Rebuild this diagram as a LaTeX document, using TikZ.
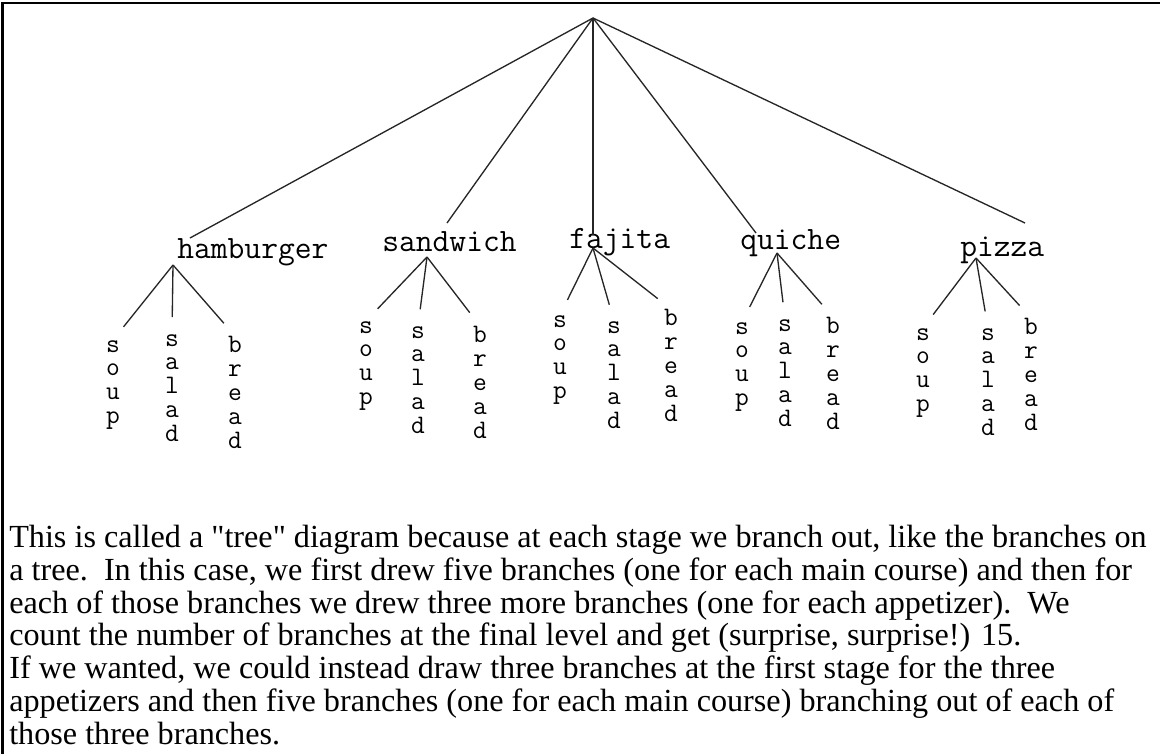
\documentclass[tikz,border=0pt]{standalone}
\usepackage{fontspec}
\setmainfont{Liberation Serif}
\tikzset{frame/.style={line width=1.8pt,black},
  branch/.style={line width=.95pt,black!85},
  twig/.style={branch,shorten >=12pt},
  dish/.style={inner sep=0pt,anchor=base west,font=\fontsize{23.2}{24}\ttfamily},
  leaf/.style={inner sep=0pt,anchor=north,align=center,font=\fontsize{19}{17}\ttfamily},
  caption/.style={inner sep=0pt,anchor=north west,align=left,font=\fontsize{22.9}{23.3}\selectfont}}
\begin{document}
\begin{tikzpicture}[x=.25mm,y=-.25mm]
\useasboundingbox (0,0) rectangle (1160,754);
\draw[frame] (1160,3) -- (2.5,3) -- (2.5,754);
% main courses
\coordinate (root) at (593,18);
\node[dish] (hamburger) at (177,258) {hamburger};
\node[dish] (sandwich) at (382,251) {sandwich};
\node[dish] (fajita) at (569,248) {fajita};
\node[dish] (quiche) at (740,249) {quiche};
\node[dish] (pizza) at (960,256) {pizza};
\coordinate (hamburgertop) at (190,238);
\coordinate (sandwichtop) at (447,223);
\coordinate (fajitatop) at (593,235);
\coordinate (quichetop) at (756,233);
\coordinate (pizzatop) at (1025,223);
\draw[branch] (root) -- (hamburgertop);
\draw[branch] (root) -- (sandwichtop);
\draw[branch] (root) -- (fajitatop);
\draw[branch] (root) -- (quichetop);
\draw[branch] (root) -- (pizzatop);
% appetizers under each main course
\coordinate (hamburgerfork) at (173,265);
\node[leaf] (hsoup) at (113,340) {s\\o\\u\\p};
\node[leaf] (hsalad) at (172,334) {s\\a\\l\\a\\d};
\node[leaf] (hbread) at (235,336) {b\\r\\e\\a\\d};
\draw[twig] (hamburgerfork) -- (hsoup.north);
\draw[twig] (hamburgerfork) -- (hsalad.north);
\draw[twig] (hamburgerfork) -- (hbread.north);
\coordinate (sandwichfork) at (427,257);
\node[leaf] (ssoup) at (366,321) {s\\o\\u\\p};
\node[leaf] (ssalad) at (418,326) {s\\a\\l\\a\\d};
\node[leaf] (sbread) at (480,326) {b\\r\\e\\a\\d};
\draw[twig] (sandwichfork) -- (ssoup.north);
\draw[twig] (sandwichfork) -- (ssalad.north);
\draw[twig] (sandwichfork) -- (sbread.north);
\coordinate (fajitafork) at (593,248);
\node[leaf] (fsoup) at (560,315) {s\\o\\u\\p};
\node[leaf] (fsalad) at (614,321) {s\\a\\l\\a\\d};
\node[leaf] (fbread) at (671,309) {b\\r\\e\\a\\d};
\draw[twig] (fajitafork) -- (fsoup.north);
\draw[twig] (fajitafork) -- (fsalad.north);
\draw[twig] (fajitafork) -- (fbread.north);
\coordinate (quichefork) at (777,253);
\node[leaf] (qsoup) at (742,322) {s\\o\\u\\p};
\node[leaf] (qsalad) at (785,319) {s\\a\\l\\a\\d};
\node[leaf] (qbread) at (833,317) {b\\r\\e\\a\\d};
\draw[twig] (quichefork) -- (qsoup.north);
\draw[twig] (quichefork) -- (qsalad.north);
\draw[twig] (quichefork) -- (qbread.north);
\coordinate (pizzafork) at (976,258);
\node[leaf] (psoup) at (923,328) {s\\o\\u\\p};
\node[leaf] (psalad) at (988,328) {s\\a\\l\\a\\d};
\node[leaf] (pbread) at (1031,318) {b\\r\\e\\a\\d};
\draw[twig] (pizzafork) -- (psoup.north);
\draw[twig] (pizzafork) -- (psalad.north);
\draw[twig] (pizzafork) -- (pbread.north);
% explanation
\node[caption] (caption) at (9,525) {This is called a \textquotedbl tree\textquotedbl{} diagram because at each stage we branch out, like the branches on\\
a tree.\ \ In this case, we first drew five branches (one for each main course) and then for\\
each of those branches we drew three more branches (one for each appetizer).\ \ We\\
count the number of branches at the final level and get (surprise, surprise!) 15.\\
If we wanted, we could instead draw three branches at the first stage for the three\\
appetizers and then five branches (one for each main course) branching out of each of\\
those three branches.};
\end{tikzpicture}
\end{document}
